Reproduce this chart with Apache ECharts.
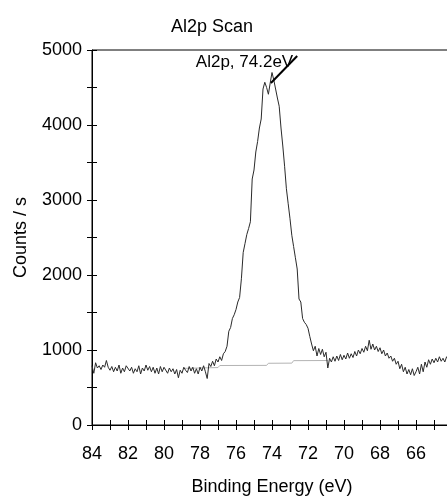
<!DOCTYPE html>
<html>
<head>
<meta charset="utf-8">
<script src="https://cdn.jsdelivr.net/npm/echarts@6/dist/echarts.min.js"></script>
<style>html,body{margin:0;padding:0;background:#fff}#c{width:447px;height:497px}</style>
</head>
<body>
<div id="c"></div>
<script>
// Binding energies (eV) of the Al2p scan
const energies = [
84.0,83.9,83.8,83.7,83.6,83.5,83.4,83.3,83.2,83.1,83.0,82.9,82.8,82.7,82.6,82.5,82.4,82.3,82.2,82.1,
82.0,81.9,81.8,81.7,81.6,81.5,81.4,81.3,81.2,81.1,81.0,80.9,80.8,80.7,80.6,80.5,80.4,80.3,80.2,80.1,
80.0,79.9,79.8,79.7,79.6,79.5,79.4,79.3,79.2,79.1,79.0,78.9,78.8,78.7,78.6,78.5,78.4,78.3,78.2,78.1,
78.0,77.9,77.8,77.7,77.6,77.5,77.4,77.3,77.2,77.1,77.0,76.9,76.8,76.7,76.6,76.5,76.4,76.3,76.2,76.1,
76.0,75.9,75.8,75.7,75.6,75.5,75.4,75.3,75.2,75.1,75.0,74.9,74.8,74.7,74.6,74.5,74.4,74.3,74.2,74.1,
74.0,73.9,73.8,73.7,73.6,73.5,73.4,73.3,73.2,73.1,73.0,72.9,72.8,72.7,72.6,72.5,72.4,72.3,72.2,72.1,
72.0,71.9,71.8,71.7,71.6,71.5,71.4,71.3,71.2,71.1,71.0,70.9,70.8,70.7,70.6,70.5,70.4,70.3,70.2,70.1,
70.0,69.9,69.8,69.7,69.6,69.5,69.4,69.3,69.2,69.1,69.0,68.9,68.8,68.7,68.6,68.5,68.4,68.3,68.2,68.1,
68.0,67.9,67.8,67.7,67.6,67.5,67.4,67.3,67.2,67.1,67.0,66.9,66.8,66.7,66.6,66.5,66.4,66.3,66.2,66.1,
66.0,65.9,65.8,65.7,65.6,65.5,65.4,65.3,65.2,65.1,65.0,64.9,64.8,64.7,64.6,64.5,64.4,64.3,64.2
];
// Counts / s
const counts = [
790,690,830,760,790,740,800,770,860,770,730,780,710,770,720,800,690,760,710,790,
810,720,770,690,750,710,790,680,760,720,800,730,780,710,770,690,760,680,780,710,
770,790,690,760,710,750,680,740,630,730,690,770,730,700,780,720,770,690,750,680,
770,720,790,710,620,820,780,850,790,880,840,910,860,950,980,1050,1250,1300,1420,1470,
1540,1640,1700,1950,2300,2420,2540,2620,2710,3280,3400,3640,3780,3960,4080,4480,4570,4500,4410,4560,
4700,4600,4580,4360,4250,3960,3720,3450,3150,2950,2750,2530,2380,2230,2080,1680,1640,1420,1370,1340,
1290,1180,1080,990,1050,920,1020,940,1010,910,970,760,890,840,910,850,920,860,940,870,
930,880,960,890,950,900,980,920,1000,950,1020,970,1050,990,1130,1010,1080,1000,1050,980,
1030,950,1000,920,960,890,920,850,890,810,850,750,810,710,770,680,740,670,750,660,
710,770,680,810,710,840,770,870,810,880,830,890,840,910,850,890,840,910,870
];
// Background (grey) line under the peak
const bgEnergies = [78.9, 77.0, 76.9, 74.3, 74.2, 72.9, 72.8, 70.9];
const bgCounts   = [755, 766, 793, 795, 823, 825, 858, 860];
// Peak annotation
const annotText = 'Al2p, 74.2eV';
const annotEnergies = [74.06, 72.6];
const annotCounts = [4560, 4920];
// Axis ticks
const xTicks = [84, 82, 80, 78, 76, 74, 72, 70, 68, 66];
const yTicks = [0, 1000, 2000, 3000, 4000, 5000];

const FONT = 'Liberation Sans, Arial, sans-serif';
const zip = (a, b) => a.map((v, i) => [v, b[i]]);

const xBase = {
  type: 'value', min: 64, max: 84, interval: 1, inverse: true,
  gridIndex: 0, position: 'bottom', splitLine: {show: false}
};
const yBase = {
  type: 'value', min: 0, max: 5000, interval: 500,
  gridIndex: 0, position: 'left', splitLine: {show: false}
};

const chart = echarts.init(document.getElementById('c'), null, {renderer: 'canvas'});
chart.setOption({
  animation: false,
  backgroundColor: '#fff',
  title: {
    text: 'Al2p Scan', left: 166, top: 13,
    textStyle: {fontFamily: FONT, fontSize: 18, fontWeight: 'normal', color: '#000'}
  },
  grid: {left: 92, top: 50, width: 360, height: 375, show: true,
         containLabel: false, outerBoundsMode: 'none',
         borderColor: '#000', borderWidth: 1, backgroundColor: 'transparent'},
  xAxis: [
    Object.assign({}, xBase, {
      name: 'Binding Energy (eV)', nameLocation: 'middle', nameGap: 53,
      nameTextStyle: {fontFamily: FONT, fontSize: 18, color: '#000'},
      axisLine: {show: true, lineStyle: {color: '#000', width: 1}},
      axisTick: {show: true, inside: false, length: 5, lineStyle: {color: '#000'}},
      axisLabel: {show: true, margin: 20, fontFamily: FONT, fontSize: 18, color: '#000',
        formatter: v => xTicks.indexOf(v) >= 0 ? String(v) : ''}
    }),
    Object.assign({}, xBase, {
      axisLine: {show: false},
      axisTick: {show: true, inside: true, length: 5, lineStyle: {color: '#000'}},
      axisLabel: {show: false}
    })
  ],
  yAxis: [
    Object.assign({}, yBase, {
      name: 'Counts / s', nameLocation: 'middle', nameGap: 62,
      nameTextStyle: {fontFamily: FONT, fontSize: 18, color: '#000'},
      axisLine: {show: true, lineStyle: {color: '#000', width: 1}},
      axisTick: {show: true, inside: false, length: 5, lineStyle: {color: '#000'}},
      axisLabel: {show: true, margin: 10, fontFamily: FONT, fontSize: 18, color: '#000',
        formatter: v => yTicks.indexOf(v) >= 0 ? String(v) : ''}
    }),
    Object.assign({}, yBase, {
      axisLine: {show: false},
      axisTick: {show: true, inside: true, length: 5, lineStyle: {color: '#000'}},
      axisLabel: {show: false}
    })
  ],
  series: [
    {
      type: 'line', name: 'background', xAxisIndex: 0, yAxisIndex: 0,
      data: zip(bgEnergies, bgCounts), symbol: 'none',
      lineStyle: {color: '#b4b4b4', width: 1}, z: 2
    },
    {
      type: 'line', name: 'Al2p', xAxisIndex: 0, yAxisIndex: 0,
      data: zip(energies, counts), symbol: 'none',
      lineStyle: {color: '#2a2a2a', width: 1}, z: 3
    },
    {
      type: 'line', name: 'annotation', xAxisIndex: 0, yAxisIndex: 0,
      data: zip(annotEnergies, annotCounts), symbol: 'none',
      lineStyle: {color: '#000', width: 2}, z: 4,
      endLabel: {show: true, formatter: annotText, position: 'left', distance: 4,
        offset: [0, 6], fontFamily: FONT, fontSize: 17, color: '#000'}
    }
  ]
});
</script>
</body>
</html>
